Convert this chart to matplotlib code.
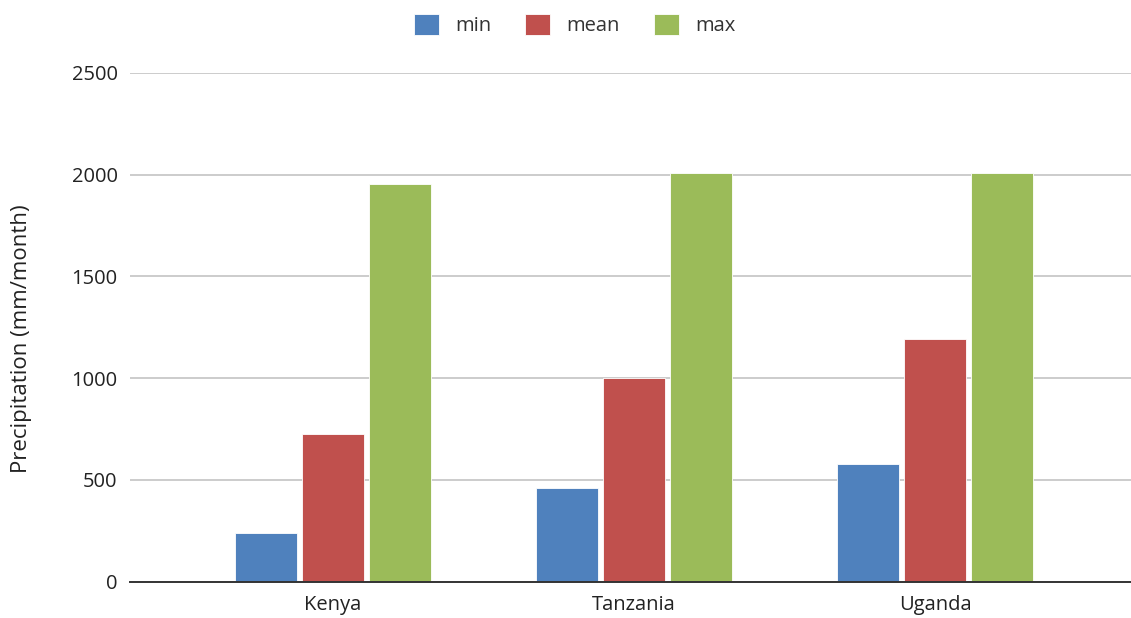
import matplotlib.pyplot as plt
import numpy as np

countries = ["Kenya", "Tanzania", "Uganda"]
series = ["min", "mean", "max"]
min_vals = [240, 459, 577]
mean_vals = [725, 1001, 1190]
max_vals = [1953, 2010, 2010]
colors = ["#4F81BD", "#C0504D", "#9BBB59"]

plt.rcParams['font.family'] = ['Open Sans', 'DejaVu Sans']

fig = plt.figure(figsize=(11.31, 6.18), dpi=100)
ax = fig.add_axes([0.115, 0.059, 0.885, 0.823])

x = np.arange(len(countries))
width = 0.206
offsets = [-0.223, 0.0, 0.223]
for vals, off, col, name in zip([min_vals, mean_vals, max_vals], offsets, colors, series):
    ax.bar(x + off, vals, width, color=col, label=name, zorder=3,
           edgecolor="white", linewidth=0.6)

ax.set_xlim(-0.674, 2.651)
ax.set_ylim(0, 2500)
ax.set_yticks(np.arange(0, 2501, 500))
ax.yaxis.grid(True, color="#cccccc", linewidth=1.4, zorder=0)
ax.set_axisbelow(True)

for s in ["top", "right", "left"]:
    ax.spines[s].set_visible(False)
ax.spines["bottom"].set_color("#333333")
ax.spines["bottom"].set_linewidth(1.4)
ax.spines["bottom"].set_zorder(4)

ax.set_xticks(x)
ax.set_xticklabels(countries)
ax.tick_params(axis="both", length=0, labelsize=14.5, colors="#222222")
ax.tick_params(axis="x", pad=10)
ax.tick_params(axis="y", pad=9)
ax.set_ylabel("Precipitation (mm/month)", fontsize=16, color="#222222")
ax.yaxis.set_label_coords(-0.098, 0.478)

fig.legend(loc="upper center", bbox_to_anchor=(0.508, 1.007), ncol=3, frameon=False,
           fontsize=14.5, handlelength=1.25, handleheight=1.25, handletextpad=0.8,
           columnspacing=1.7, labelcolor="#333333")

fig.savefig("out.png", dpi=100)
